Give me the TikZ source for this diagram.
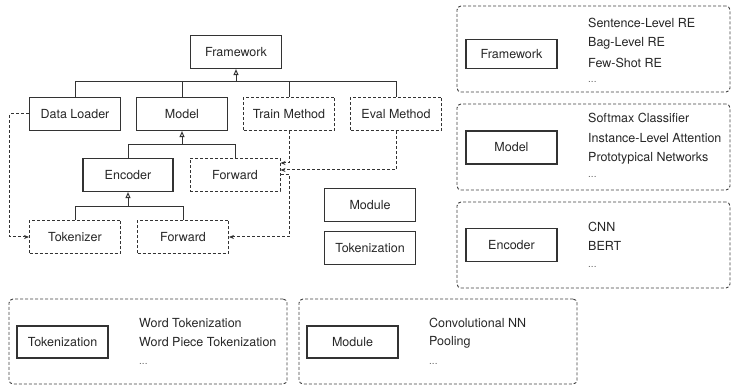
\documentclass[tikz,border=0pt]{standalone}
\usepackage{fontspec}
\setmainfont{TeX Gyre Heros}
\usetikzlibrary{arrows.meta}

\begin{document}
\begin{tikzpicture}[
    x=1pt, y=-1pt,
    font=\fontsize{12.5}{15}\selectfont,
    every node/.style={text=black!85},
    block/.style={draw=black!80, line width=1.2pt, minimum width=91pt, minimum height=33pt, inner sep=0pt},
    dblock/.style={block, line width=1pt, dash pattern=on 3pt off 2pt},
    panel/.style={draw=black!75, line width=0.9pt, dash pattern=on 3pt off 2pt, rounded corners=4pt, minimum width=273pt, minimum height=86pt},
    item/.style={anchor=west, inner sep=0pt},
    more/.style={anchor=west, inner sep=0pt, text=black!60, font=\fontsize{10}{12}\selectfont},
    tree/.style={draw=black!80, line width=1pt},
    inherit/.style={tree, -{Triangle[open, length=6pt, width=5pt]}},
    flow/.style={draw=black!80, line width=1pt, dash pattern=on 3pt off 2pt, -{Stealth[length=5pt, width=4pt]}}
]
   \useasboundingbox (0,0) rectangle (732,385);

   % Class tree
   \node[block] (fw) at (236,52) {Framework};
   \node[block] (dl) at (75,114) {Data Loader};
   \node[block] (model) at (182,114) {Model};
   \node[dblock] (tm) at (289,114) {Train Method};
   \node[dblock] (em) at (396,114) {Eval Method};
   \node[block, minimum width=90pt] (enc) at (128,175) {Encoder};
   \node[dblock, minimum width=90pt] (fwd) at (235,175) {Forward};
   \node[dblock] (tok) at (75,237) {Tokenizer};
   \node[dblock] (fwd2) at (183,237) {Forward};
   \node[block] (mod) at (370,205) {Module};
   \node[block] (tkz) at (370,248) {Tokenization};

   \coordinate (fwbus) at (236,82);
   \coordinate (mbus) at (182,145);
   \coordinate (ebus) at (128,207);

   % Inheritance
   \draw[tree] (dl.north) |- (em.north |- fwbus) -- (em.north);
   \draw[tree] (model.north) -- (model.north |- fwbus);
   \draw[tree] (tm.north) -- (tm.north |- fwbus);
   \draw[inherit] (fwbus) -- (fw.south);

   \draw[tree] (enc.north) |- (fwd.north |- mbus) -- (fwd.north);
   \draw[inherit] (mbus) -- (model.south);

   \draw[tree] (tok.north) |- (fwd2.north |- ebus) -- (fwd2.north);
   \draw[inherit] (ebus) -- (enc.south);

   % Calls
   \draw[flow] (dl.west) -- ++(-19,0) |- (tok.west);
   \draw[flow] (tm.south) |- ([yshift=12pt]fwd.east);
   \draw[flow] (em.south) |- ([yshift=5pt]fwd.east);
   \draw[flow] (fwd.east) -- (tm.south |- fwd.east) |- (fwd2.east);

   % Panels
   \node[panel] (pfw) at (593.5,49) {};
   \node[panel] (pmodel) at (593.5,147) {};
   \node[panel] (penc) at (593.5,245) {};
   \node[panel, minimum width=278pt, minimum height=85pt] (ptkz) at (148,341.5) {};
   \node[panel, minimum width=278pt, minimum height=85pt] (pmod) at (438,341.5) {};

   \node[block, minimum height=29pt] (fwr) at (511.5,54) {Framework};
   \node[block] (modelr) at (511.5,147.5) {Model};
   \node[block] (encr) at (511.5,245) {Encoder};
   \node[block, minimum height=32pt] (tkzb) at (62.5,342) {Tokenization};
   \node[block, minimum height=32pt] (modb) at (352.5,342) {Module};

   % Lists
   \foreach \txt [count=\i] in {Sentence-Level RE, Bag-Level RE, Few-Shot RE}
      \node[item] (fwi\i) at (588, {3+20*\i}) {\txt};
   \node[more] (fwi4) at (588,82) {...};

   \foreach \txt [count=\i] in {Softmax Classifier, Instance-Level Attention, Prototypical Networks}
      \node[item] (mi\i) at (588, {98+20*\i}) {\txt};
   \node[more] (mi4) at (588,177) {...};

   \foreach \txt [count=\i] in {CNN, BERT}
      \node[item] (ei\i) at (588, {208+19*\i}) {\txt};
   \node[more] (ei3) at (588,267) {...};

   \foreach \txt [count=\i] in {Word Tokenization, Word Piece Tokenization}
      \node[item] (ti\i) at (139, {304+19*\i}) {\txt};
   \node[more] (ti3) at (139,364) {...};

   \foreach \txt [count=\i] in {Convolutional NN, Pooling}
      \node[item] (ni\i) at (429, {304+19*\i}) {\txt};
   \node[more] (ni3) at (429,364) {...};
\end{tikzpicture}
\end{document}
